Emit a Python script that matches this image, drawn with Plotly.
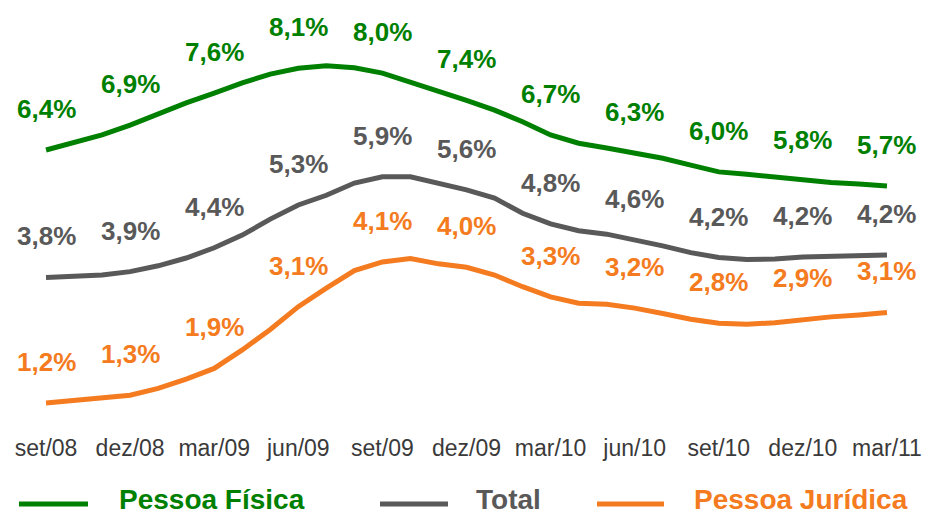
import plotly.graph_objects as go

# ---- data ----
tick_labels = ["set/08", "dez/08", "mar/09", "jun/09", "set/09", "dez/09",
               "mar/10", "jun/10", "set/10", "dez/10", "mar/11"]
series_names = ["Pessoa Física", "Total", "Pessoa Jurídica"]

pf = [6.40, 6.55, 6.71, 6.91, 7.15, 7.37, 7.57, 7.78, 7.96, 8.08, 8.13, 8.09, 7.98, 7.80,
      7.60, 7.42, 7.22, 6.98, 6.71, 6.54, 6.44, 6.34, 6.23, 6.09, 5.95, 5.90, 5.84, 5.77,
      5.73, 5.70, 5.66]
total = [3.78, 3.80, 3.83, 3.90, 4.02, 4.18, 4.39, 4.65, 4.98, 5.27, 5.47, 5.72, 5.85, 5.85,
         5.72, 5.58, 5.41, 5.10, 4.88, 4.74, 4.67, 4.56, 4.43, 4.29, 4.19, 4.15, 4.16, 4.20,
         4.22, 4.24, 4.24]
pj = [1.20, 1.26, 1.32, 1.36, 1.50, 1.69, 1.91, 2.29, 2.71, 3.18, 3.56, 3.92, 4.10, 4.17,
      4.06, 3.99, 3.83, 3.59, 3.38, 3.25, 3.23, 3.15, 3.04, 2.92, 2.84, 2.82, 2.85, 2.92,
      2.97, 3.01, 3.06]

pf_labels = [6.4, 6.9, 7.6, 8.1, 8.0, 7.4, 6.7, 6.3, 6.0, 5.8, 5.7]
total_labels = [3.8, 3.9, 4.4, 5.3, 5.9, 5.6, 4.8, 4.6, 4.2, 4.2, 4.2]
pj_labels = [1.2, 1.3, 1.9, 3.1, 4.1, 4.0, 3.3, 3.2, 2.8, 2.9, 3.1]

colors = ["#008000", "#595959", "#F47B20"]

# ---- layout geometry ----
W, H = 928, 517
ML, MR, MT, MB = 18, 13, 10, 85
FONT = "Liberation Sans, Arial, sans-serif"

def px_x(px):
    return (px - ML) / (W - ML - MR)

def px_y(py):
    return (H - MB - py) / (H - MT - MB)

months = list(range(len(pf)))
quarter_idx = list(range(0, len(pf), 3))

fig = go.Figure()
all_series = [pf, total, pj]
all_labels = [pf_labels, total_labels, pj_labels]

for name, vals, col in zip(series_names, all_series, colors):
    fig.add_trace(go.Scatter(
        x=months, y=vals, mode="lines", name=name,
        line=dict(color=col, width=5), showlegend=False, hoverinfo="skip"))

annotations = []
for vals, labs, col in zip(all_series, all_labels, colors):
    for qi, lab in zip(quarter_idx, labs):
        annotations.append(dict(
            x=qi, y=vals[qi], xref="x", yref="y",
            text=f"{lab:.1f}".replace(".", ",") + "%",
            showarrow=False, yshift=41, yanchor="middle", xanchor="center",
            font=dict(family=FONT, size=26, color=col, weight="bold")))

# manual legend
legend_line_px = [(19, 88), (380, 448), (597, 664)]
legend_text_px = [117, 474, 692]
legend_line_y_px = 504
legend_text_y_px = 499
shapes = []
for (x0, x1), tx, name, col in zip(legend_line_px, legend_text_px, series_names, colors):
    shapes.append(dict(type="line", xref="paper", yref="paper",
                       x0=px_x(x0), x1=px_x(x1),
                       y0=px_y(legend_line_y_px), y1=px_y(legend_line_y_px),
                       line=dict(color=col, width=5)))
    annotations.append(dict(
        x=px_x(tx), y=px_y(legend_text_y_px), xref="paper", yref="paper",
        text=name, showarrow=False, xanchor="left", yanchor="middle",
        font=dict(family=FONT, size=28, color=col, weight="bold")))

v_per_px = 1 / 48.65
y_top = 6.4 + (150 - MT) * v_per_px
y_bot = 6.4 - (H - MB - 150) * v_per_px

fig.update_layout(
    width=W, height=H,
    margin=dict(l=ML, r=MR, t=MT, b=MB, pad=0, autoexpand=False),
    paper_bgcolor="white", plot_bgcolor="white",
    xaxis=dict(range=[-1, 31], tickvals=quarter_idx, ticktext=tick_labels,
               showgrid=False, zeroline=False, showline=False, ticks="",
               automargin=False, ticklabelstandoff=0,
               tickfont=dict(family=FONT, size=23, color="#3a3a3a")),
    yaxis=dict(range=[y_bot, y_top], visible=False, showgrid=False, zeroline=False,
               automargin=False),
    annotations=annotations, shapes=shapes,
)

fig.write_html("out.html", config={"displayModeBar": False},
               post_script="document.body.style.margin='0';document.body.style.overflow='hidden';")
